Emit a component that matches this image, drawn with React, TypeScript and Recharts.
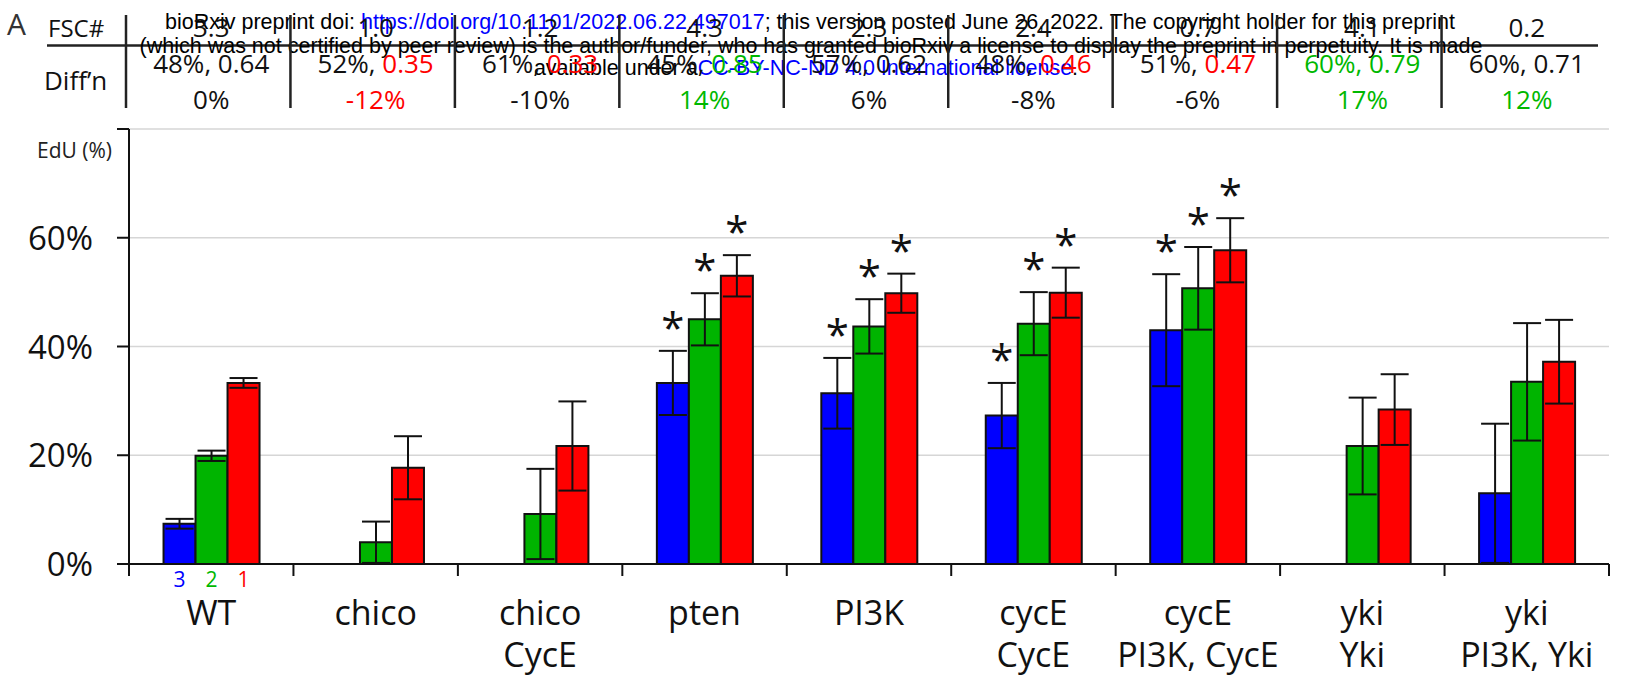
import React from "react";
import { Bar, BarChart, CartesianGrid, Customized, ErrorBar, LabelList, XAxis, YAxis } from "recharts";

// genotype (line 1) and rescue transgene (line 2) of each category
const genotypes = ["WT", "chico", "chico", "pten", "PI3K", "cycE", "cycE", "yki", "yki"];
const rescues = ["", "", "CycE", "", "", "CycE", "PI3K, CycE", "Yki", "PI3K, Yki"];

// EdU (%) per group, with error
const edu3 = [7.4, 0, 0, 33.3, 31.4, 27.3, 43.0, 0, 13.0];
const err3 = [0.9, 0, 0, 5.9, 6.5, 6.0, 10.3, 0, 12.8];
const edu2 = [19.9, 4.0, 9.2, 45.0, 43.7, 44.2, 50.7, 21.7, 33.5];
const err2 = [0.95, 3.8, 8.3, 4.8, 5.0, 5.8, 7.6, 8.9, 10.8];
const edu1 = [33.3, 17.7, 21.7, 53.0, 49.8, 49.9, 57.7, 28.4, 37.2];
const err1 = [0.9, 5.8, 8.2, 3.8, 3.6, 4.6, 5.9, 6.5, 7.7];
const starred = [false, false, false, true, true, true, true, false, false];

// table above the chart
const fscScores = ["3.3", "1.0", "1.2", "4.3", "2.3", "2.4", "0.7", "4.1", "0.2"];
const diffPercent = ["48%", "52%", "61%", "45%", "57%", "48%", "51%", "60%", "60%"];
const diffRatio = ["0.64", "0.35", "0.33", "0.85", "0.62", "0.46", "0.47", "0.79", "0.71"];
const diffChange = ["0%", "-12%", "-10%", "14%", "6%", "-8%", "-6%", "17%", "12%"];
const percentTone = ["", "", "", "", "", "", "", "up", ""];
const ratioTone = ["", "down", "down", "up", "", "down", "down", "up", ""];
const changeTone = ["", "down", "", "up", "", "", "", "up", "up"];

const yTicks = [0, 20, 40, 60, 80];

const W = 1628;
const H = 680;
const PLOT_LEFT = 129;
const PLOT_RIGHT = 1609;
const BAND = (PLOT_RIGHT - PLOT_LEFT) / genotypes.length;
const FONT = '"Open Sans", "Noto Sans", sans-serif';
const MARK_FONT = '"Liberation Sans", Arial, sans-serif';
const INK = "#111";
const BLUE = "#0000ff";
const GREEN = "#00b400";
const RED = "#ff0000";
const toneColor = (tone: string) => (tone === "up" ? "#00b800" : tone === "down" ? RED : INK);

const data = genotypes.map((g, i) => ({
  key: `${g}|${rescues[i]}`,
  edu3: edu3[i],
  err3: err3[i],
  edu2: edu2[i],
  err2: err2[i],
  edu1: edu1[i],
  err1: err1[i],
}));

function PercentTick({ x, y, payload }: any) {
  if (payload.value === 80) {
    return (
      <text x={x + 19} y={y + 29} textAnchor="end" fontSize={21} fontFamily={FONT} fill="#222">
        EdU (%)
      </text>
    );
  }
  return (
    <text x={x} y={y + 12} textAnchor="end" fontSize={33} fontFamily={FONT} fill={INK}>
      {payload.value}%
    </text>
  );
}

function GenotypeTick({ x, y, payload, index }: any) {
  const i = payload?.index ?? index;
  const left = x - BAND / 2;
  return (
    <g>
      <line x1={left} y1={y} x2={left} y2={y + 12} stroke={INK} strokeWidth={2} />
      {i === genotypes.length - 1 && (
        <line x1={x + BAND / 2} y1={y} x2={x + BAND / 2} y2={y + 12} stroke={INK} strokeWidth={2} />
      )}
      <text x={x} y={y + 61} textAnchor="middle" fontSize={34} fontFamily={FONT} fill={INK}>
        {genotypes[i]}
      </text>
      <text x={x} y={y + 103} textAnchor="middle" fontSize={34} fontFamily={FONT} fill={INK}>
        {rescues[i]}
      </text>
    </g>
  );
}

function TableTick({ x, y, payload, index }: any) {
  const i = payload?.index ?? index;
  const sep = x - BAND / 2 - 3;
  return (
    <g fontFamily={FONT} fontSize={26} textAnchor="middle">
      <line x1={sep} y1={y - 114} x2={sep} y2={y - 21} stroke="#222" strokeWidth={2.5} />
      <text x={x} y={y - 92} fill={INK}>
        {fscScores[i]}
      </text>
      <text x={x} y={y - 56}>
        <tspan fill={toneColor(percentTone[i])}>{diffPercent[i]}</tspan>
        <tspan fill={percentTone[i] === ratioTone[i] ? toneColor(ratioTone[i]) : INK}>, </tspan>
        <tspan fill={toneColor(ratioTone[i])}>{diffRatio[i]}</tspan>
      </text>
      <text x={x} y={y - 20} fill={toneColor(changeTone[i])}>
        {diffChange[i]}
      </text>
    </g>
  );
}

function makeMarks(values: number[], errors: number[], digit: string, color: string) {
  return (props: any) => {
    const x = Number(props.x);
    const y = Number(props.y);
    const width = Number(props.width);
    const height = Number(props.height);
    const cx = x + width / 2;
    // zero bars are skipped by the label list, so find the category from the bar's position
    const i = Math.floor((cx - PLOT_LEFT) / BAND);
    const v = values[i];
    return (
      <g>
        {i === 0 && (
          <text x={cx} y={y + height + 23} textAnchor="middle" fontSize={21} fontFamily={FONT} fill={color}>
            {digit}
          </text>
        )}
        {starred[i] && v > 0 && (
          <text
            x={cx}
            y={y - errors[i] * (height / v) - 8}
            textAnchor="middle"
            fontSize={42}
            fontFamily={FONT}
            fill={INK}
          >
            *
          </text>
        )}
      </g>
    );
  };
}

function Frame() {
  return (
    <g>
      <text x={7} y={35} fontSize={30} fontFamily={FONT} fill="#333">
        A
      </text>
      <text x={48} y={37} fontSize={24} fontFamily={FONT} fill={INK}>
        FSC#
      </text>
      <text x={44} y={90} fontSize={26} fontFamily={FONT} fill={INK}>
        Diff’n
      </text>
      <line x1={47} y1={45.5} x2={1598} y2={45.5} stroke="#222" strokeWidth={2.5} />
      <g fontFamily={MARK_FONT} fontSize={21.5} textAnchor="middle">
        <text x={810} y={29} fill="#000">
          bioRxiv preprint doi: <tspan fill={BLUE}>https://doi.org/10.1101/2022.06.22.497017</tspan>; this version
          posted June 26, 2022. The copyright holder for this preprint
        </text>
        <text x={811} y={53} fill="#000">
          (which was not certified by peer review) is the author/funder, who has granted bioRxiv a license to display
          the preprint in perpetuity. It is made
        </text>
        <text x={806} y={75} fill="#000">
          available under a<tspan fill={BLUE}>CC-BY-NC-ND 4.0 International license</tspan>.
        </text>
      </g>
    </g>
  );
}

export default function App() {
  return (
    <div style={{ position: "absolute", left: 0, top: 0, width: W, height: H, background: "#fff" }}>
      <BarChart
        width={W}
        height={H}
        data={data}
        margin={{ top: 0, right: W - PLOT_RIGHT, bottom: 0, left: 0 }}
        barCategoryGap="21%"
        barGap={0}
      >
        <CartesianGrid vertical={false} stroke="#d6d6d6" strokeWidth={1.5} />
        <XAxis
          xAxisId="table"
          orientation="top"
          dataKey="key"
          height={129}
          interval={0}
          axisLine={false}
          tickLine={false}
          tickSize={0}
          tickMargin={0}
          tick={<TableTick />}
        />
        <XAxis
          dataKey="key"
          height={116}
          interval={0}
          tickLine={false}
          tickSize={0}
          tickMargin={0}
          axisLine={{ stroke: INK, strokeWidth: 2 }}
          tick={<GenotypeTick />}
        />
        <YAxis
          domain={[0, 80]}
          ticks={yTicks}
          interval={0}
          width={PLOT_LEFT}
          tickSize={12}
          tickMargin={24}
          axisLine={{ stroke: INK, strokeWidth: 2 }}
          tickLine={{ stroke: INK, strokeWidth: 2 }}
          tick={<PercentTick />}
        />
        <Bar dataKey="edu3" fill={BLUE} stroke={INK} strokeWidth={2} isAnimationActive={false}>
          <ErrorBar dataKey="err3" width={14} stroke={INK} strokeWidth={2} isAnimationActive={false} />
          <LabelList dataKey="edu3" content={makeMarks(edu3, err3, "3", BLUE)} />
        </Bar>
        <Bar dataKey="edu2" fill={GREEN} stroke={INK} strokeWidth={2} isAnimationActive={false}>
          <ErrorBar dataKey="err2" width={14} stroke={INK} strokeWidth={2} isAnimationActive={false} />
          <LabelList dataKey="edu2" content={makeMarks(edu2, err2, "2", "#00b800")} />
        </Bar>
        <Bar dataKey="edu1" fill={RED} stroke={INK} strokeWidth={2} isAnimationActive={false}>
          <ErrorBar dataKey="err1" width={14} stroke={INK} strokeWidth={2} isAnimationActive={false} />
          <LabelList dataKey="edu1" content={makeMarks(edu1, err1, "1", RED)} />
        </Bar>
        <Customized component={<Frame />} />
      </BarChart>
    </div>
  );
}
